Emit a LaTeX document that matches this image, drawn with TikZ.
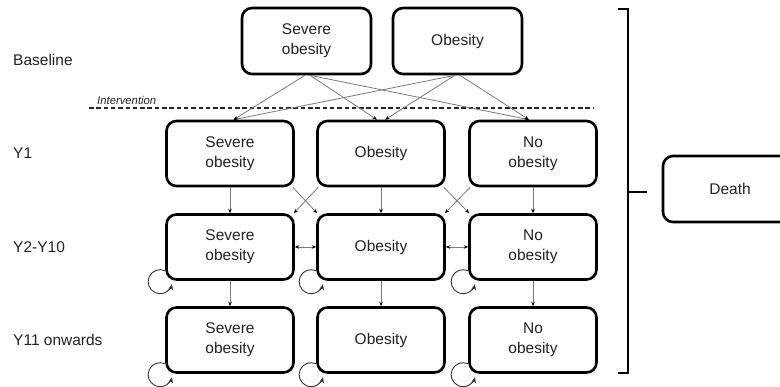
\documentclass[tikz,border=0pt]{standalone}
\usepackage{fontspec}
\setmainfont{Liberation Sans}
\usetikzlibrary{arrows.meta}
\definecolor{txt}{HTML}{222222}
\definecolor{conn}{HTML}{7A7A7A}
\begin{document}
\begin{tikzpicture}[x=1pt,y=-1pt,
  statebox/.style={draw=black, line width=2.6pt, rounded corners=10pt, minimum width=127pt, minimum height=65pt, align=center, text=txt, font=\fontsize{15.5}{20}\selectfont, inner sep=0pt},
  rowlabel/.style={anchor=west, text=txt, font=\fontsize{15.5}{20}\selectfont, inner sep=0pt},
  tr/.style={draw=conn, line width=0.8pt, -{Stealth[length=4.5pt,width=3.5pt,black]}},
  trboth/.style={draw=conn, line width=0.8pt, {Stealth[length=4.5pt,width=3.5pt,black]}-{Stealth[length=4.5pt,width=3.5pt,black]}},
  selfloop/.style={draw=black!80, line width=0.9pt, -{Stealth[length=6pt,width=5pt]}},
  bracketline/.style={draw=black, line width=1.2pt},
  cutline/.style={draw=black!85, line width=1.2pt, dash pattern=on 4.5pt off 2.8pt}
]
\clip (0,0) rectangle (780,387);
\fill[white] (0,0) rectangle (780,387);

% row labels
\node[rowlabel] (lb) at (13,60) {Baseline};
\node[rowlabel] (l1) at (13,153) {Y1};
\node[rowlabel] (l2) at (13,247) {Y2-Y10};
\node[rowlabel] (l3) at (13,340) {Y11 onwards};

% baseline boxes
\node[statebox, minimum width=129pt, minimum height=66pt] (b1) at (306.5,41) {Severe\\obesity};
\node[statebox, minimum width=129pt, minimum height=66pt] (b2) at (457.5,41) {Obesity};

% intervention line
\coordinate (dl) at (89,108);
\coordinate (dr) at (593,108);
\draw[cutline] (dl) -- (dr);
\node[anchor=south west, inner sep=0pt, text=txt, font=\fontsize{11.3}{13}\selectfont\itshape] (iv) at (97,105) {Intervention};

% Y1
\node[statebox] (s1) at (230,153.5) {Severe\\obesity};
\node[statebox] (o1) at (381,153.5) {Obesity};
\node[statebox] (n1) at (533,153.5) {No\\obesity};
% Y2-Y10
\node[statebox] (s2) at (230,247) {Severe\\obesity};
\node[statebox] (o2) at (381,247) {Obesity};
\node[statebox] (n2) at (533,247) {No\\obesity};
% Y11
\node[statebox] (s3) at (230,340) {Severe\\obesity};
\node[statebox] (o3) at (381,340) {Obesity};
\node[statebox] (n3) at (533,340) {No\\obesity};

% death
\node[statebox, minimum width=134pt, minimum height=66pt] (d) at (730,189) {Death};

% bracket
\coordinate (bt) at (618,9);
\coordinate (bb) at (618,373);
\coordinate (bm) at (628,192);
\coordinate (bmr) at (647,192);
\draw[bracketline] (bt) -- (628,9) -- (628,373) -- (bb);
\draw[bracketline] (bm) -- (bmr);

% baseline -> Y1
\draw[tr] ([xshift=-1.5pt]b1.south) -- ([xshift=3.5pt]s1.north);
\draw[tr] ([xshift=3.5pt]b1.south) -- ([xshift=-4pt]o1.north);
\draw[tr] ([xshift=3.5pt]b1.south) -- ([xshift=-4pt]n1.north);
\draw[tr] ([xshift=-2.5pt]b2.south) -- ([xshift=3.5pt]s1.north);
\draw[tr] ([xshift=-2.5pt]b2.south) -- ([xshift=4pt]o1.north);
\draw[tr] ([xshift=2.5pt]b2.south) -- ([xshift=-4pt]n1.north);

% Y1 -> Y2
\draw[tr] (s1.south) -- (s2.north);
\draw[tr] (o1.south) -- (o2.north);
\draw[tr] (n1.south) -- (n2.north);
\draw[tr] ([xshift=-2pt]s1.south east) -- ([xshift=1pt]o2.north west);
\draw[tr] ([xshift=2pt]o1.south west) -- ([xshift=-1pt]s2.north east);
\draw[tr] ([xshift=-2pt]o1.south east) -- ([xshift=1pt]n2.north west);
\draw[tr] ([xshift=2pt]n1.south west) -- ([xshift=-1pt]o2.north east);

% Y2 horizontal
\draw[trboth] (s2.east) -- (o2.west);
\draw[trboth] (o2.east) -- (n2.west);

% Y2 -> Y11
\draw[tr] (s2.south) -- (s3.north);
\draw[tr] (o2.south) -- (o3.north);
\draw[tr] (n2.south) -- (n3.north);

% self loops
\foreach \b in {s2,o2,n2,s3,o3,n3}{
  \draw[selfloop] (\b.south west) ++(0,-10) arc[start angle=65, end angle=348, radius=12pt];
}
\end{tikzpicture}
\end{document}
